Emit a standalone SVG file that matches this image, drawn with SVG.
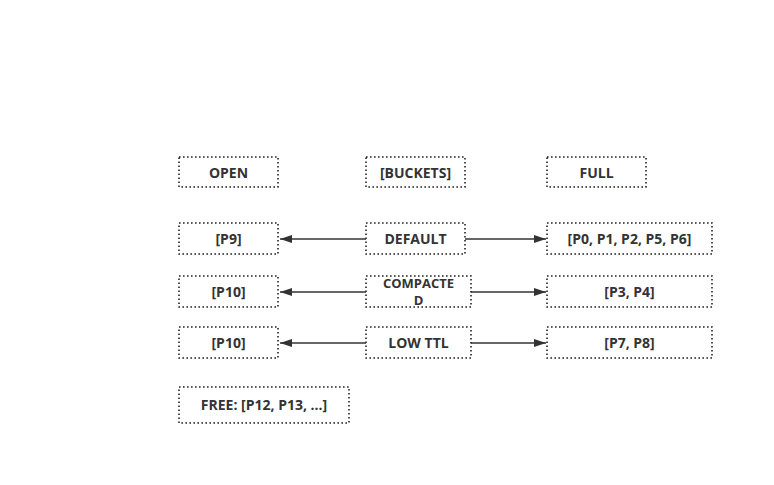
<svg xmlns="http://www.w3.org/2000/svg" width="774" height="485" viewBox="0 0 774 485">
<style>
.b{fill:#fff;stroke:#222;stroke-width:1.6;stroke-dasharray:1.6 2.4}
.t{font-family:"Open Sans",sans-serif;font-weight:bold;font-size:14px;fill:#333;text-anchor:middle}
.s{font-size:13px}
.c{stroke:#333;stroke-width:1.6;fill:none}
</style>
<defs>
<marker id="a" viewBox="0 0 12 10" refX="12" refY="5" markerWidth="12" markerHeight="10" markerUnits="userSpaceOnUse" orient="auto-start-reverse"><path d="M0,1 L12,5 L0,9 Z" fill="#333"/></marker>
</defs>
<rect width="774" height="485" fill="#fff"/>
<g id="connectors">
<line class="c" x1="366" y1="239" x2="280" y2="239" marker-end="url(#a)"/>
<line class="c" x1="465" y1="239" x2="546" y2="239" marker-end="url(#a)"/>
<line class="c" x1="366" y1="292" x2="280" y2="292" marker-end="url(#a)"/>
<line class="c" x1="471" y1="292" x2="546" y2="292" marker-end="url(#a)"/>
<line class="c" x1="366" y1="343" x2="280" y2="343" marker-end="url(#a)"/>
<line class="c" x1="471" y1="343" x2="546" y2="343" marker-end="url(#a)"/>
</g>
<g id="open"><rect class="b" x="179" y="157" width="99" height="30"/><text class="t" x="228.5" y="177.5">OPEN</text></g>
<g id="buckets"><rect class="b" x="366" y="157" width="99" height="30"/><text class="t" x="415.5" y="177.5">[BUCKETS]</text></g>
<g id="full"><rect class="b" x="547" y="157" width="99" height="30"/><text class="t" x="596.5" y="177.5">FULL</text></g>
<g id="p9"><rect class="b" x="179" y="223" width="99" height="31"/><text class="t" x="228.5" y="244">[P9]</text></g>
<g id="default"><rect class="b" x="366" y="223" width="99" height="31"/><text class="t" x="415.5" y="244">DEFAULT</text></g>
<g id="full-default"><rect class="b" x="547" y="223" width="165" height="31"/><text class="t" x="629.5" y="244">[P0, P1, P2, P5, P6]</text></g>
<g id="p10a"><rect class="b" x="179" y="276" width="99" height="31"/><text class="t" x="228.5" y="297">[P10]</text></g>
<g id="compacted"><rect class="b" x="366" y="276" width="105" height="31"/><text class="t s" x="418.5" y="287.5">COMPACTE</text><text class="t s" x="418.5" y="305">D</text></g>
<g id="full-compacted"><rect class="b" x="547" y="276" width="165" height="31"/><text class="t" x="629.5" y="297">[P3, P4]</text></g>
<g id="p10b"><rect class="b" x="179" y="327" width="99" height="31"/><text class="t" x="228.5" y="348">[P10]</text></g>
<g id="lowttl"><rect class="b" x="366" y="327" width="105" height="31"/><text class="t" x="418.5" y="348">LOW TTL</text></g>
<g id="full-lowttl"><rect class="b" x="547" y="327" width="165" height="31"/><text class="t" x="629.5" y="348">[P7, P8]</text></g>
<g id="free"><rect class="b" x="179" y="387" width="170" height="36"/><text class="t" x="264" y="410">FREE: [P12, P13, ...]</text></g>
</svg>
